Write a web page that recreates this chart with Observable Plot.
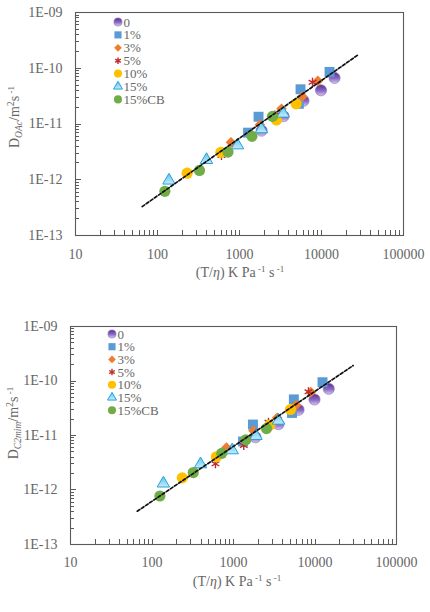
<!DOCTYPE html>
<html><head><meta charset="utf-8">
<script src="https://cdn.jsdelivr.net/npm/d3@7"></script>
<script src="https://cdn.jsdelivr.net/npm/@observablehq/plot@0.6"></script>
<style>body{margin:0;background:#fff;} #c svg{display:block;}</style>
</head><body><div id="c"></div>
<script>
// ---------- data ----------
const seriesNames = ["0", "1%", "3%", "5%", "10%", "15%", "15%CB"];
const xTicks = [10, 100, 1000, 10000, 100000];
const xTickLabels = ["10", "100", "1000", "10000", "100000"];
const yTicks = [1e-13, 1e-12, 1e-11, 1e-10, 1e-9];
const yTickLabels = ["1E-13", "1E-12", "1E-11", "1E-10", "1E-09"];

// top panel: D_OAc
const oacX = [
  [1860, 3440, 6030, 9860, 14430],
  [1271, 1707, 5300, 5550, 12530],
  [787, 1770, 3252, 5830, 9020],
  [603, 1400, 2700, 7770],
  [230, 594, 2826, 4910],
  [138, 396, 946, 1854, 3411],
  [123, 325, 724, 1419, 2524]
];
const oacY = [
  [7.6e-12, 1.38e-11, 2.61e-11, 4.02e-11, 6.71e-11],
  [7.0e-12, 1.35e-11, 2.3e-11, 4.2e-11, 8.6e-11],
  [4.69e-12, 9.7e-12, 1.88e-11, 3.11e-11, 5.93e-11],
  [2.73e-12, 6.3e-12, 1.45e-11, 5.6e-11],
  [1.31e-12, 3.11e-12, 1.18e-11, 2.30e-11],
  [9.7e-13, 2.27e-12, 4.15e-12, 8.07e-12, 1.54e-11],
  [6.2e-13, 1.47e-12, 3.14e-12, 6.0e-12, 1.37e-11]
];
const oacFitX = [65, 28500];
const oacFitY = [3.3e-13, 1.78e-10];

// bottom panel: D_C2mim
const c2X = [
  [1862, 3566, 6280, 9860, 14750],
  [1309, 1734, 5225, 5500, 12360],
  [820, 1758, 3437, 5850, 8890],
  [601, 1337, 2686, 8320],
  [235, 618, 2800, 5000],
  [138, 394, 964, 1888, 3566],
  [125, 321, 718, 1416, 2540]
];
const c2Y = [
  [9.3e-12, 1.61e-11, 2.96e-11, 4.58e-11, 7.19e-11],
  [7.76e-12, 1.59e-11, 2.59e-11, 4.6e-11, 9.5e-11],
  [6.0e-12, 1.22e-11, 2.11e-11, 3.60e-11, 6.24e-11],
  [3.03e-12, 6.56e-12, 1.75e-11, 6.34e-11],
  [1.67e-12, 4.07e-12, 1.55e-11, 3.0e-11],
  [1.32e-12, 2.97e-12, 5.37e-12, 9.86e-12, 1.88e-11],
  [7.76e-13, 2.09e-12, 4.71e-12, 8.34e-12, 1.34e-11]
];
const c2FitX = [66, 29400];
const c2FitY = [4.08e-13, 1.92e-10];

// ---------- styles ----------
const FONT = "'Liberation Serif', 'DejaVu Serif', serif";
const TEXT = "#666";
function styleFor(s, id) {
  return [
    {symbol: "circle", d3: d3.symbolCircle, r: 5.6, fill: `url(#gp${id})`, stroke: "#8a6fc0", sw: 0.6},
    {symbol: "square", d3: d3.symbolSquare, r: 5.6, fill: "#5b9bd5", stroke: "none", sw: 0},
    {symbol: "diamond2", d3: d3.symbolDiamond2, r: 4.8, fill: "#ed7d31", stroke: "none", sw: 0},
    {symbol: "asterisk", d3: d3.symbolAsterisk, r: 4.2, fill: "none", stroke: "#c0282d", sw: 1.4},
    {symbol: "circle", d3: d3.symbolCircle, r: 5.6, fill: "#ffc000", stroke: "none", sw: 0},
    {symbol: "triangle", d3: d3.symbolTriangle, r: 4.6, fill: `url(#gt${id})`, stroke: "#22a3dc", sw: 1},
    {symbol: "circle", d3: d3.symbolCircle, r: 5.6, fill: "#70ad47", stroke: "none", sw: 0}
  ][s];
}

function rich(sel, parts) {
  let shift = 0;
  parts.forEach(p => {
    const t = sel.append("tspan").text(p.t);
    const target = p.shift || 0;
    if (target !== shift) { t.attr("dy", (target - shift)); shift = target; }
    if (p.size) t.attr("font-size", p.size);
    if (p.italic) t.attr("font-style", "italic");
  });
}

function panel(cfg) {
  const id = cfg.id;
  const rows = [];
  cfg.xs.forEach((arr, s) => arr.forEach((x, i) => rows.push({s, x, y: cfg.ys[s][i]})));
  const fit = cfg.fitX.map((x, i) => ({x, y: cfg.fitY[i]}));
  const dotMarks = seriesNames.map((n, s) => {
    const st = styleFor(s, id);
    return Plot.dot(rows.filter(r => r.s === s), {
      x: "x", y: "y", r: st.r, symbol: st.symbol,
      fill: st.fill, stroke: st.stroke, strokeWidth: st.sw
    });
  });
  const chart = Plot.plot({
    width: 430, height: cfg.height,
    marginTop: cfg.mt, marginBottom: cfg.mb, marginLeft: cfg.ml, marginRight: cfg.mr,
    style: {fontFamily: FONT, fontSize: "14px", color: TEXT, background: "#fff"},
    x: {type: "log", domain: [10, 1e5]},
    y: {type: "log", domain: [1e-13, 1e-9]},
    marks: [
      Plot.axisX({ticks: xTicks, tickFormat: d => xTickLabels[xTicks.indexOf(d)], tickSize: 0, tickPadding: cfg.xpad, label: null}),
      Plot.axisY({ticks: yTicks, tickFormat: d => yTickLabels[yTicks.indexOf(d)], tickSize: 0, tickPadding: 13, label: null}),
      ...dotMarks,
      Plot.line(fit, {x: "x", y: "y", stroke: "#111", strokeWidth: 1.7, strokeDasharray: "3,2"}),
      Plot.frame({stroke: "#5a5a5a", strokeWidth: 1.1})
    ]
  });
  const svg = d3.select(chart);
  const defs = svg.insert("defs", ":first-child");
  const gp = defs.append("linearGradient").attr("id", "gp" + id).attr("x1", 0).attr("y1", 0).attr("x2", 0).attr("y2", 1);
  gp.append("stop").attr("offset", "0%").attr("stop-color", "#5b2d91");
  gp.append("stop").attr("offset", "55%").attr("stop-color", "#8b6cc4");
  gp.append("stop").attr("offset", "100%").attr("stop-color", "#d6cbee");
  const gt = defs.append("linearGradient").attr("id", "gt" + id).attr("x1", 0).attr("y1", 0).attr("x2", 0).attr("y2", 1);
  gt.append("stop").attr("offset", "0%").attr("stop-color", "#5cc3ef");
  gt.append("stop").attr("offset", "100%").attr("stop-color", "#c8ebfa");

  const sx = chart.scale("x"), sy = chart.scale("y");
  const bottom = cfg.height - cfg.mb, left = cfg.ml;
  const tg = svg.append("g").attr("stroke", "#5a5a5a").attr("stroke-width", 1);
  const xMinor = [], yMinor = [];
  [10, 100, 1000, 10000].forEach(d => { for (let k = 2; k <= 9; k++) xMinor.push(d * k); });
  [1e-13, 1e-12, 1e-11, 1e-10].forEach(d => { for (let k = 2; k <= 9; k++) yMinor.push(d * k); });
  xMinor.concat(xTicks).forEach(v => {
    const px = Math.round(sx.apply(v)) + 0.5;
    tg.append("line").attr("x1", px).attr("x2", px).attr("y1", bottom).attr("y2", bottom - 5);
  });
  yMinor.forEach(v => {
    const py = Math.round(sy.apply(v)) + 0.5;
    tg.append("line").attr("x1", left).attr("x2", left + 4).attr("y1", py).attr("y2", py);
  });
  yTicks.forEach(v => {
    const py = Math.round(sy.apply(v)) + 0.5;
    tg.append("line").attr("x1", left).attr("x2", left + 6).attr("y1", py).attr("y2", py);
  });

  // legend
  const lg = svg.append("g").attr("font-family", FONT).attr("font-size", 13).attr("fill", TEXT).attr("text-anchor", "start");
  seriesNames.forEach((n, s) => {
    const st = styleFor(s, id);
    const yy = cfg.legY + s * cfg.legDy;
    const rr = st.r * 0.72;
    lg.append("path").attr("d", d3.symbol(st.d3, Math.PI * rr * rr)())
      .attr("transform", `translate(${cfg.legX},${yy})`)
      .attr("fill", st.fill).attr("stroke", st.stroke).attr("stroke-width", st.sw);
    lg.append("text").attr("x", cfg.legX + 5.5).attr("y", yy + 4.5).attr("text-anchor", "start").text(n);
  });

  // x title
  const xt = svg.append("text").attr("x", cfg.xtX).attr("y", cfg.xtY).attr("text-anchor", "middle")
    .attr("font-family", FONT).attr("font-size", 14).attr("fill", TEXT);
  rich(xt, [
    {t: "(T/"}, {t: "η", italic: true}, {t: ") K Pa"},
    {t: " -1", size: 9, shift: -5}, {t: " s"}, {t: " -1", size: 9, shift: -5}
  ]);
  // y title
  const yt = svg.append("text").attr("transform", `translate(${cfg.ytX},${cfg.ytY}) rotate(-90)`)
    .attr("text-anchor", "middle").attr("font-family", FONT).attr("font-size", 14).attr("fill", TEXT);
  rich(yt, [
    {t: "D"}, {t: cfg.sub, italic: true, size: 9.5, shift: 3}, {t: "/m"},
    {t: "2", size: 10, shift: -5}, {t: "s"}, {t: " -1", size: 9, shift: -5}
  ]);
  return chart;
}

const c = document.getElementById("c");
c.appendChild(panel({
  id: "a", xs: oacX, ys: oacY, fitX: oacFitX, fitY: oacFitY,
  height: 300, mt: 12, mb: 65, ml: 75, mr: 27, xpad: 14,
  legX: 118, legY: 22, legDy: 12.9,
  xtX: 240, xtY: 277, ytX: 19, ytY: 117, sub: "OAc"
}));
c.appendChild(panel({
  id: "b", xs: c2X, ys: c2Y, fitX: c2FitX, fitY: c2FitY,
  height: 312, mt: 26, mb: 68, ml: 70, mr: 34, xpad: 13,
  legX: 112, legY: 34, legDy: 12.7,
  xtX: 237, xtY: 286, ytX: 18, ytY: 123, sub: "C2mim"
}));
</script>
</body></html>
